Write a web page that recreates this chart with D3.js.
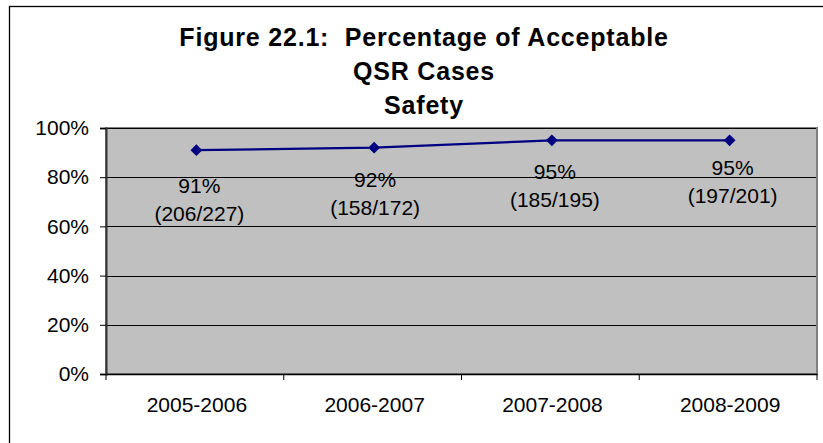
<!DOCTYPE html>
<html>
<head>
<meta charset="utf-8">
<script src="https://cdn.jsdelivr.net/npm/d3@7"></script>
<style>
  html, body { margin: 0; padding: 0; background: #ffffff; }
  svg { display: block; }
</style>
</head>
<body>
<svg id="chart" width="823" height="443"></svg>
<script>
// ---- Data ----
const titleLines = ["Figure 22.1:  Percentage of Acceptable", "QSR Cases", "Safety"];
const categories = ["2005-2006", "2006-2007", "2007-2008", "2008-2009"];
const values = [0.91, 0.92, 0.95, 0.95];
const pctLabels = ["91%", "92%", "95%", "95%"];
const countLabels = ["(206/227)", "(158/172)", "(185/195)", "(197/201)"];
const yTicks = [0, 0.2, 0.4, 0.6, 0.8, 1.0];

// ---- Layout (label placement as in the source, in px relative to point) ----
const labelDy = [43, 39, 39, 35];
const labelDx = [3, 1, 3, 3];

const svg = d3.select("#chart");
const plot = { left: 106, right: 817, top: 128, bottom: 374 };

// outer frame (right and bottom edges fall outside the picture)
svg.append("rect")
  .attr("x", 9.5).attr("y", 6.5)
  .attr("width", 840).attr("height", 460)
  .attr("fill", "#ffffff").attr("stroke", "#000").attr("stroke-width", 1.3);

// title
const title = svg.append("text")
  .attr("text-anchor", "middle")
  .attr("font-family", "Arial, 'Liberation Sans', sans-serif")
  .attr("font-weight", "bold")
  .attr("font-size", 25)
  .attr("letter-spacing", 0.8)
  .style("white-space", "pre")
  .attr("fill", "#000");
titleLines.forEach((t, i) => {
  title.append("tspan").attr("x", 424).attr("y", 45.5 + i * 34).style("white-space", "pre").text(t);
});

const x = d3.scaleBand().domain(categories).range([plot.left, plot.right]);
const y = d3.scaleLinear().domain([0, 1]).range([plot.bottom, plot.top]);

// plot area
svg.append("rect")
  .attr("x", plot.left).attr("y", plot.top)
  .attr("width", plot.right - plot.left).attr("height", plot.bottom - plot.top)
  .attr("fill", "#c0c0c0").attr("stroke", "#808080").attr("stroke-width", 2);

// gridlines
svg.append("g").selectAll("line")
  .data(yTicks.filter(d => d > 0))
  .join("line")
  .attr("x1", plot.left).attr("x2", plot.right - 1)
  .attr("y1", d => Math.round(y(d)) + 0.5).attr("y2", d => Math.round(y(d)) + 0.5)
  .attr("stroke", "#000").attr("stroke-width", 1);

// y axis
const yAxis = d3.axisLeft(y).tickValues(yTicks).tickFormat(d3.format(".0%")).tickSize(6).tickPadding(11);
const gy = svg.append("g").attr("transform", `translate(${plot.left},0)`).call(yAxis);
gy.select(".domain").attr("stroke", "#333").attr("stroke-width", 2);
gy.selectAll(".tick line").attr("stroke", "#000");
gy.selectAll(".tick text")
  .attr("font-family", "Arial, 'Liberation Sans', sans-serif")
  .attr("font-size", 21).attr("fill", "#000");

// x axis
const xAxis = d3.axisBottom(x).tickSize(0).tickPadding(0);
const gx = svg.append("g").attr("transform", `translate(0,${plot.bottom})`).call(xAxis);
gx.select(".domain").attr("stroke", "#000").attr("stroke-width", 1.5);
gx.selectAll(".tick text")
  .attr("font-family", "Arial, 'Liberation Sans', sans-serif")
  .attr("font-size", 21).attr("fill", "#000")
  .attr("dy", 0).attr("y", 37.5)
  .attr("dx", 2);
// category boundary ticks
const bounds = categories.map(c => x(c)).concat([x(categories[categories.length - 1]) + x.bandwidth()]);
svg.append("g").selectAll("line")
  .data(bounds)
  .join("line")
  .attr("x1", d => d).attr("x2", d => d)
  .attr("y1", plot.bottom).attr("y2", plot.bottom + 6)
  .attr("stroke", "#000").attr("stroke-width", 1);

// line series
const cx = c => x(c) + x.bandwidth() / 2 + 1.5;
const line = d3.line().x((d, i) => cx(categories[i])).y(d => y(d));
svg.append("path")
  .datum(values)
  .attr("d", line)
  .attr("fill", "none")
  .attr("stroke", "#000080")
  .attr("stroke-width", 2.2);

// diamond markers
const diamond = d3.symbol().type(d3.symbolDiamond2).size(88);
svg.append("g").selectAll("path")
  .data(values)
  .join("path")
  .attr("transform", (d, i) => `translate(${cx(categories[i])},${y(d)})`)
  .attr("d", diamond)
  .attr("fill", "#000080");

// data labels
const lbl = svg.append("g")
  .attr("font-family", "Arial, 'Liberation Sans', sans-serif")
  .attr("font-size", 21).attr("fill", "#000")
  .attr("text-anchor", "middle");
values.forEach((v, i) => {
  const px = cx(categories[i]) + labelDx[i];
  const py = y(v) + labelDy[i];
  lbl.append("text").attr("x", px).attr("y", py).text(pctLabels[i]);
  lbl.append("text").attr("x", px).attr("y", py + 28).text(countLabels[i]);
});
</script>
</body>
</html>
